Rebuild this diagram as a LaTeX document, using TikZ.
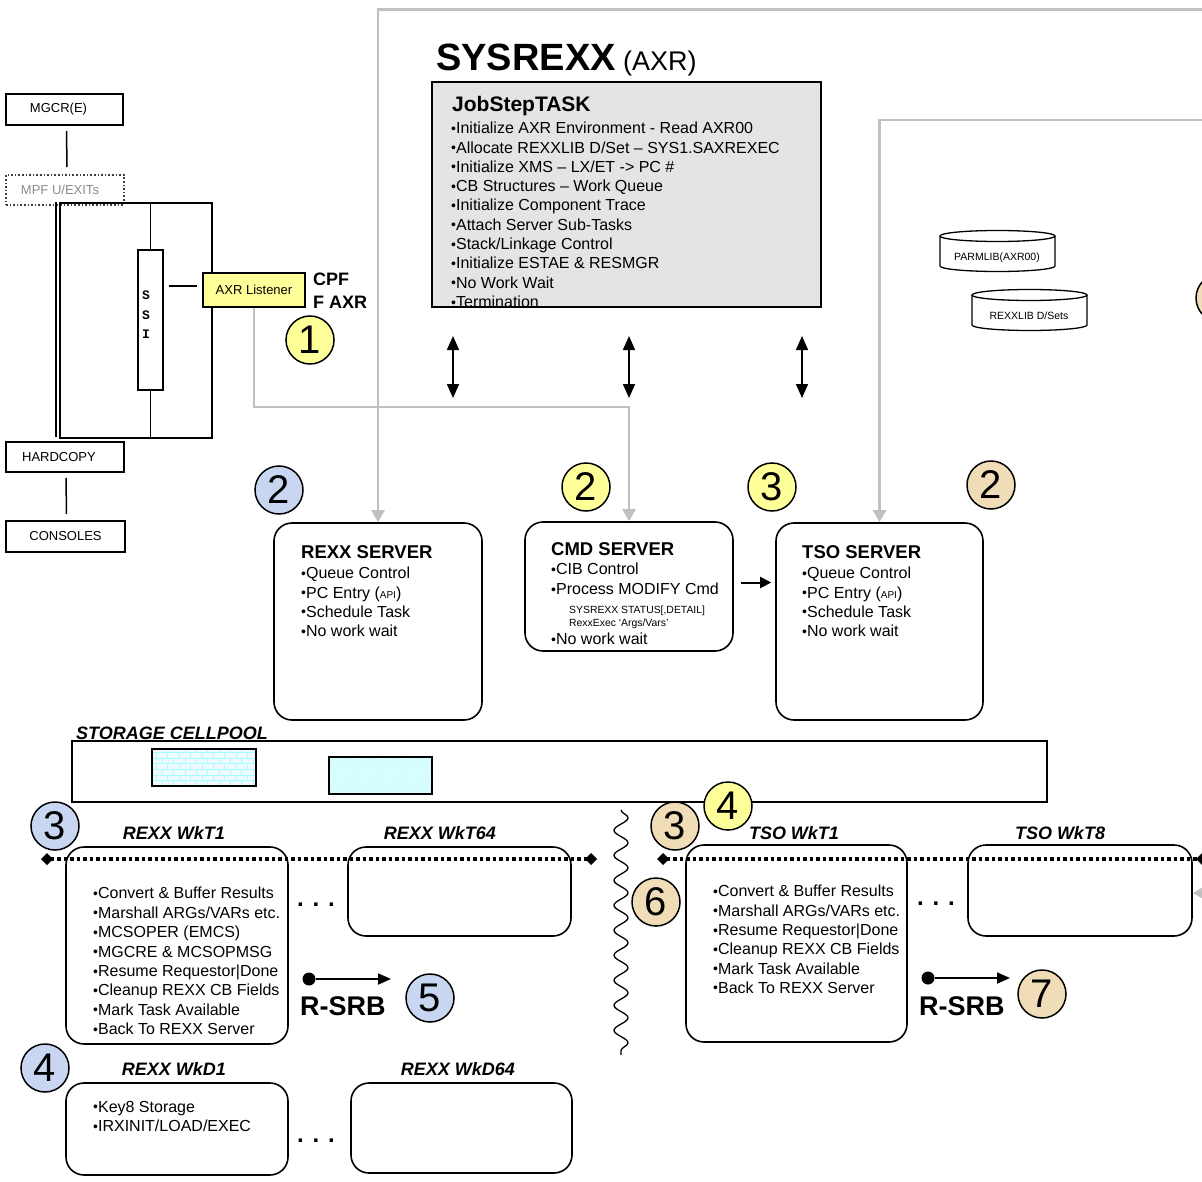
\documentclass[tikz,border=0pt]{standalone}
\usepackage{fontspec}
\setmainfont{Liberation Sans}
\newfontfamily\ssifont{Liberation Mono}
\usetikzlibrary{arrows.meta,patterns,decorations.pathmorphing}
\definecolor{notefill}{HTML}{FFFF99}
\definecolor{bluefill}{HTML}{C8D6F2}
\definecolor{tanfill}{HTML}{F0DCB6}
\definecolor{feedgray}{HTML}{C0C0C0}
\definecolor{jobgray}{HTML}{E4E4E4}
\newcommand{\itm}{{\fontsize{14}{11}\selectfont\raisebox{0.4pt}{•}}}
\newcommand{\api}{{\fontsize{10}{10}\selectfont API}}

\tikzset{
  box/.style={draw, line width=1.6pt, inner sep=0pt},
  rbox/.style={box, rounded corners=18pt},
  num/.style={circle, draw, line width=1.5pt, minimum size=48pt, inner sep=0pt, font=\fontsize{40}{40}\selectfont},
  smalltxt/.style={font=\fontsize{13}{15}\selectfont},
  items/.style={anchor=north west, inner sep=0pt, align=left, font=\fontsize{16}{19.3}\selectfont},
  srvtitle/.style={anchor=west, inner sep=0pt, font=\bfseries\fontsize{18.5}{20}\selectfont},
  wklabel/.style={inner sep=0pt, font=\bfseries\itshape\fontsize{18}{20}\selectfont},
  ellip/.style={anchor=base, inner sep=0pt, font=\bfseries\fontsize{24}{24}\selectfont},
  feed/.style={draw=feedgray, line width=2.5pt, -{Triangle[width=13pt,length=12pt]}},
  twoway/.style={line width=1.5pt, {Triangle[width=12pt,length=14pt]}-{Triangle[width=12pt,length=14pt]}},
  divider/.style={line width=3.5pt, dash pattern=on 3.5pt off 3pt, {Diamond[width=12pt,length=12pt]}-{Diamond[width=12pt,length=12pt]}},
  srb/.style={line width=1.8pt, -{Triangle[width=11pt,length=13pt]}},
}

\begin{document}
\begin{tikzpicture}[x=1pt,y=-1pt]
\path[use as bounding box, fill=white] (0,0) rectangle (1202,1182);

\node[box, smalltxt, minimum width=117, minimum height=31] (mgcr) at (64.5,109.5) {MGCR(E)\hspace*{12pt}};
\node[box, smalltxt, dotted, draw=black!75, text=black!45, minimum width=118, minimum height=30] (mpf) at (65,190) {MPF U/EXITs\hspace*{10pt}};
\draw[line width=1.5pt] ([shift={(2,5)}]mgcr.south) -- ([shift={(2,-7)}]mpf.north);

\node[box, minimum width=152, minimum height=235] (mcs) at (136,320.5) {};
\draw[line width=1.5pt] ([shift={(-3,0)}]mcs.north west) -- ([shift={(-3,-2)}]mcs.south west);
\node[box, fill=white, minimum width=25, minimum height=140] (ssi) at (150.5,320) {};
\node[align=center, inner sep=0pt, font=\ssifont\bfseries\fontsize{13}{19.5}\selectfont] (ssitxt) at (146,315) {S\\S\\I};
\draw[line width=1.5pt] (mcs.north -| ssi) -- (ssi.north);
\draw[line width=1.5pt] (ssi.south) -- (mcs.south -| ssi);
\node[box, smalltxt, fill=notefill, minimum width=102, minimum height=34] (axr) at (254,290) {AXR Listener};
\draw[line width=1.5pt] ([shift={(5,-4)}]ssi.east |- axr.west) -- ([shift={(-5,-4)}]axr.west);
\node[anchor=north west, inner sep=0pt, align=left, font=\bfseries\fontsize{18}{23}\selectfont] (cpf) at (313,273) {CPF\\F AXR};
\node[num, fill=notefill] (n1) at (310,340) {1};

\node[box, smalltxt, minimum width=118, minimum height=30] (hardcopy) at (65,457) {HARDCOPY\hspace*{12pt}};
\node[box, smalltxt, minimum width=119, minimum height=31] (consoles) at (65.5,536.5) {CONSOLES};
\draw[line width=1.5pt] ([shift={(1,5)}]hardcopy.south) -- ([shift={(1,-6)}]consoles.north);

\node[anchor=base west, inner sep=0pt, font=\bfseries\fontsize{38}{40}\selectfont] (title) at (436,71) {SYSREXX};
\node[anchor=base west, inner sep=0pt, font=\fontsize{27}{30}\selectfont] (titleaxr) at (623,71) {(AXR)};
\node[box, fill=jobgray, minimum width=389, minimum height=225] (jst) at (626.5,194.5) {};
\node[anchor=base west, inner sep=0pt, font=\bfseries\fontsize{21}{24}\selectfont] (jsttitle) at (452,112) {JobStepTASK};
\node[items] (jstitems) at (451,122) {\itm Initialize AXR Environment - Read AXR00\\
\itm Allocate REXXLIB D/Set – SYS1.SAXREXEC\\
\itm Initialize XMS – LX/ET -> PC \#\\
\itm CB Structures – Work Queue\\
\itm Initialize Component Trace\\
\itm Attach Server Sub-Tasks\\
\itm Stack/Linkage Control\\
\itm Initialize ESTAE \& RESMGR\\
\itm No Work Wait\\
\itm Termination};

\coordinate (link1t) at (453,336);
\coordinate (link1b) at (453,398);
\coordinate (link2t) at (629,336);
\coordinate (link2b) at (629,398);
\coordinate (link3t) at (802,336);
\coordinate (link3b) at (802,398);
\draw[twoway] (link1t) -- (link1b);
\draw[twoway] (link2t) -- (link2b);
\draw[twoway] (link3t) -- (link3b);

\draw[line width=1.3pt, fill=white] (940,236) -- (940,266) arc[start angle=180, end angle=0, x radius=57.5, y radius=5.5] -- (1055,236);
\draw[line width=1.3pt] (997.5,236) ellipse[x radius=57.5, y radius=5.5];
\node[inner sep=0pt, font=\fontsize{10.5}{12}\selectfont] (parmlib) at (997,258) {PARMLIB(AXR00)};
\draw[line width=1.3pt, fill=white] (972,295) -- (972,325) arc[start angle=180, end angle=0, x radius=57.5, y radius=5.5] -- (1087,295);
\draw[line width=1.3pt] (1029.5,295) ellipse[x radius=57.5, y radius=5.5];
\node[inner sep=0pt, font=\fontsize{10.5}{12}\selectfont] (rexxlib) at (1029,316) {REXXLIB D/Sets};
\node[num, fill=tanfill] (n2edge) at (1220,298) {};

\node[rbox, minimum width=208, minimum height=197] (rexxsrv) at (378,621.5) {};
\node[srvtitle] (rexxsrvtitle) at (301,552) {REXX SERVER};
\node[items] (rexxsrvitems) at (301,567) {\itm Queue Control\\\itm PC Entry (\api)\\\itm Schedule Task\\\itm No work wait};

\node[rbox, minimum width=208, minimum height=129] (cmdsrv) at (629,586.5) {};
\node[srvtitle] (cmdsrvtitle) at (551,549) {CMD SERVER};
\node[items, font=\fontsize{16}{20}\selectfont] (cmdsrvitems) at (551,563) {\itm CIB Control\\\itm Process MODIFY Cmd};
\node[items, font=\fontsize{10.4}{13}\selectfont] (cmdsrvcmds) at (569,606) {SYSREXX STATUS[,DETAIL]\\RexxExec ‘Args/Vars’};
\node[items] (cmdsrvwait) at (551,633) {\itm No work wait};

\node[rbox, minimum width=207, minimum height=197] (tsosrv) at (879.5,621.5) {};
\node[srvtitle] (tsosrvtitle) at (802,552) {TSO SERVER};
\node[items] (tsosrvitems) at (802,567) {\itm Queue Control\\\itm PC Entry (\api)\\\itm Schedule Task\\\itm No work wait};
\draw[line width=2pt, -{Triangle[width=11pt,length=11pt]}] ([shift={(7,-4)}]cmdsrv.east) -- ([shift={(-4,-4)}]cmdsrv.east -| tsosrv.west);

\coordinate (feedtop) at (1215,9.5);
\coordinate (feedtso) at (1215,120);
\draw[feed] (feedtop) -| (rexxsrv.north);
\draw[feed] (feedtso) -| (tsosrv.north);
\draw[feed] (axr.south) -- ++(0,99) -| (cmdsrv.north);

\node[num, fill=bluefill] (n2rexx) at (279,490) {2};
\node[num, fill=notefill] (n2cmd) at (586,487) {2};
\node[num, fill=notefill] (n3cmd) at (772,487) {3};
\node[num, fill=tanfill] (n2tso) at (991,485) {2};

\node[anchor=base west, inner sep=0pt, font=\bfseries\itshape\fontsize{18}{20}\selectfont] (cptitle) at (76,739) {STORAGE CELLPOOL};
\node[box, minimum width=975, minimum height=61] (cellpool) at (559.5,771.5) {};
\node[box, line width=1.2pt, preaction={fill=cyan!6}, pattern=bricks, pattern color=cyan!35, minimum width=104, minimum height=37] (cellA) at (204,767.5) {};
\node[box, line width=1.2pt, preaction={fill=cyan!4}, pattern=north east lines, pattern color=cyan!40, minimum width=103, minimum height=37] (cellB) at (380.5,775.5) {};

\coordinate (cutt) at (621,810);
\coordinate (cutb) at (621,1055);
\draw[line width=1.3pt, decorate, decoration={snake, segment length=25pt, amplitude=7pt}] (cutt) -- (cutb);

\node[rbox, minimum width=222, minimum height=197] (rwkt1) at (177,945.5) {};
\node[wklabel] (rwkt1lbl) at (174,833) {REXX WkT1};
\node[items, font=\fontsize{16}{19.4}\selectfont] (rwkt1items) at (93,887) {\itm Convert \& Buffer Results\\
\itm Marshall ARGs/VARs etc.\\
\itm MCSOPER (EMCS)\\
\itm MGCRE \& MCSOPMSG\\
\itm Resume Requestor|Done\\
\itm Cleanup REXX CB Fields\\
\itm Mark Task Available\\
\itm Back To REXX Server};
\node[rbox, minimum width=223, minimum height=89] (rwkt64) at (459.5,891.5) {};
\node[wklabel] (rwkt64lbl) at (440,833) {REXX WkT64};
\node[ellip] (rwktdots) at (316,906) {. . .};
\coordinate (rdivl) at (41,859);
\coordinate (rdivr) at (597,859);
\draw[divider] (rdivl) -- (rdivr);
\node[circle, fill, inner sep=0pt, minimum size=13] (rsrbdot) at (309,979) {};
\coordinate (rsrbend) at (391,979);
\draw[srb] (rsrbdot) -- (rsrbend);
\node[anchor=base west, inner sep=0pt, font=\bfseries\fontsize{27}{28}\selectfont] (rsrb) at (300,1015) {R-SRB};
\node[num, fill=bluefill] (n3rexx) at (55,826) {3};
\node[num, fill=bluefill] (n5) at (430,998) {5};

\node[rbox, minimum width=221, minimum height=197] (twkt1) at (796.5,943.5) {};
\node[wklabel] (twkt1lbl) at (794,833) {TSO WkT1};
\node[items, font=\fontsize{16}{19.3}\selectfont] (twkt1items) at (713,885) {\itm Convert \& Buffer Results\\
\itm Marshall ARGs/VARs etc.\\
\itm Resume Requestor|Done\\
\itm Cleanup REXX CB Fields\\
\itm Mark Task Available\\
\itm Back To REXX Server};
\node[rbox, minimum width=224, minimum height=91] (twkt8) at (1080,890.5) {};
\node[wklabel] (twkt8lbl) at (1060,833) {TSO WkT8};
\node[ellip] (twktdots) at (936,905) {. . .};
\coordinate (tdivl) at (657,859);
\coordinate (tdivr) at (1208,859);
\draw[divider] (tdivl) -- (tdivr);
\coordinate (feedwk) at (1215,893);
\draw[feed] (feedwk) -- (twkt8.east |- feedwk);
\node[circle, fill, inner sep=0pt, minimum size=13] (tsrbdot) at (928,978) {};
\coordinate (tsrbend) at (1010,978);
\draw[srb] (tsrbdot) -- (tsrbend);
\node[anchor=base west, inner sep=0pt, font=\bfseries\fontsize{27}{28}\selectfont] (tsrb) at (919,1015) {R-SRB};
\node[num, fill=tanfill] (n3tso) at (675,826) {3};
\node[num, fill=notefill] (n4tso) at (728,806) {4};
\node[num, fill=tanfill] (n6) at (656,902) {6};
\node[num, fill=tanfill] (n7) at (1042,994) {7};

\node[rbox, minimum width=222, minimum height=92] (rwkd1) at (177,1129) {};
\node[wklabel] (rwkd1lbl) at (174,1069) {REXX WkD1};
\node[items] (rwkd1items) at (93,1101) {\itm Key8 Storage\\\itm IRXINIT/LOAD/EXEC};
\node[rbox, minimum width=221, minimum height=90] (rwkd64) at (461.5,1128) {};
\node[wklabel] (rwkd64lbl) at (458,1069) {REXX WkD64};
\node[ellip] (rwkddots) at (316,1142) {. . .};
\node[num, fill=bluefill] (n4rexx) at (45,1068) {4};
\end{tikzpicture}
\end{document}
